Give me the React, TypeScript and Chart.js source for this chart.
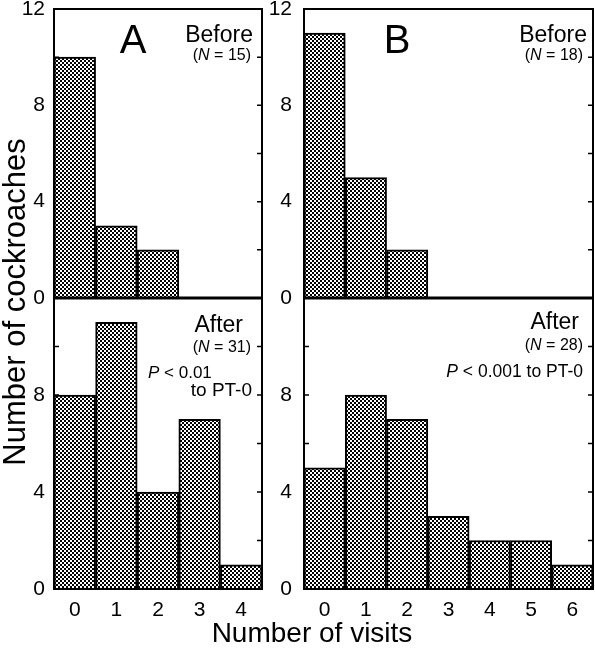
import React, { useEffect, useRef } from "react";
import { Chart, registerables } from "chart.js";

Chart.register(...registerables);

const W = 595;
const H = 649;
const FONT = '"Liberation Sans", Arial, Helvetica, sans-serif';

// ---- data ----
const visitsA = ["0", "1", "2", "3", "4"];
const visitsB = ["0", "1", "2", "3", "4", "5", "6"];
const beforeA = [10, 3, 2, 0, 0];
const afterA = [8, 11, 4, 7, 1];
const beforeB = [11, 5, 2, 0, 0, 0, 0];
const afterB = [5, 8, 7, 3, 2, 2, 1];
const yMajorTicks = [0, 4, 8, 12];
const yMinorTicks = [2, 4, 6, 8, 10];
const Y_MIN = 0;
const Y_MAX = 12;
const yTitle = "Number of cockroaches";
const xTitle = "Number of visits";

type Seg = { t: string; i?: boolean };
type Note = { segs: Seg[]; x: number; y: number; size: number; align: "left" | "right" | "center" };
type Area = { l: number; t: number; r: number; b: number };
type Panel = {
  labels: string[];
  values: number[];
  area: Area;
  showX: boolean;
  hideTopTick: boolean;
  tickPad: number;
  notes: Note[];
  thickBottom: boolean;
  titles: boolean;
};

const notesATop: Note[] = [
  { segs: [{ t: "A" }], x: 133, y: 53, size: 40, align: "center" },
  { segs: [{ t: "Before" }], x: 253, y: 42, size: 23, align: "right" },
  { segs: [{ t: "(" }, { t: "N", i: true }, { t: " = 15)" }], x: 251, y: 60, size: 16, align: "right" },
];
const notesABot: Note[] = [
  { segs: [{ t: "After" }], x: 243, y: 332, size: 23, align: "right" },
  { segs: [{ t: "(" }, { t: "N", i: true }, { t: " = 31)" }], x: 251, y: 352, size: 16, align: "right" },
  { segs: [{ t: "P", i: true }, { t: " < 0.01" }], x: 148, y: 378, size: 17, align: "left" },
  { segs: [{ t: "to PT-0" }], x: 252, y: 396, size: 19, align: "right" },
];
const notesBTop: Note[] = [
  { segs: [{ t: "B" }], x: 397, y: 53, size: 40, align: "center" },
  { segs: [{ t: "Before" }], x: 587, y: 42, size: 23, align: "right" },
  { segs: [{ t: "(" }, { t: "N", i: true }, { t: " = 18)" }], x: 583, y: 60, size: 16, align: "right" },
];
const notesBBot: Note[] = [
  { segs: [{ t: "After" }], x: 579, y: 329, size: 23, align: "right" },
  { segs: [{ t: "(" }, { t: "N", i: true }, { t: " = 28)" }], x: 583, y: 350, size: 16, align: "right" },
  { segs: [{ t: "P", i: true }, { t: " < 0.001 to PT-0" }], x: 583, y: 377, size: 17.5, align: "right" },
];

const panels: Panel[] = [
  { labels: visitsA, values: beforeA, area: { l: 54, t: 9, r: 262, b: 298 }, showX: false, hideTopTick: false, tickPad: 9, notes: notesATop, thickBottom: true, titles: false },
  { labels: visitsA, values: afterA, area: { l: 54, t: 298, r: 262, b: 589 }, showX: true, hideTopTick: true, tickPad: 9, notes: notesABot, thickBottom: false, titles: true },
  { labels: visitsB, values: beforeB, area: { l: 304, t: 9, r: 593, b: 298 }, showX: false, hideTopTick: false, tickPad: 12, notes: notesBTop, thickBottom: true, titles: false },
  { labels: visitsB, values: afterB, area: { l: 304, t: 298, r: 593, b: 589 }, showX: true, hideTopTick: true, tickPad: 12, notes: notesBBot, thickBottom: false, titles: false },
];

const Y_AXIS_W = 40;
const X_AXIS_H = 30;

function makePattern(): CanvasPattern | string {
  const c = document.createElement("canvas");
  c.width = 4;
  c.height = 4;
  const g = c.getContext("2d");
  if (!g) return "#777";
  g.fillStyle = "#fff";
  g.fillRect(0, 0, 4, 4);
  g.fillStyle = "#000";
  g.fillRect(0, 0, 2, 2);
  g.fillRect(2, 2, 2, 2);
  const p = g.createPattern(c, "repeat");
  return p || "#777";
}

function drawNote(ctx: CanvasRenderingContext2D, n: Note) {
  const fontOf = (s: Seg) => `${s.i ? "italic " : ""}${n.size}px ${FONT}`;
  let total = 0;
  const widths = n.segs.map((s) => {
    ctx.font = fontOf(s);
    const w = ctx.measureText(s.t).width;
    total += w;
    return w;
  });
  let x = n.align === "left" ? n.x : n.align === "right" ? n.x - total : n.x - total / 2;
  ctx.textAlign = "left";
  ctx.textBaseline = "alphabetic";
  ctx.fillStyle = "#000";
  n.segs.forEach((s, k) => {
    ctx.font = fontOf(s);
    ctx.fillText(s.t, x, n.y);
    x += widths[k];
  });
}

function decorPlugin(p: Panel) {
  return {
    id: "panelDecor",
    beforeDatasetsDraw(chart: any) {
      const { ctx, chartArea: a, scales } = chart;
      const y = scales.y;
      ctx.save();
      ctx.strokeStyle = "#000";
      ctx.lineWidth = 1.5;
      yMinorTicks.forEach((v) => {
        const py = y.getPixelForValue(v);
        ctx.beginPath();
        ctx.moveTo(a.left, py);
        ctx.lineTo(a.left + 5, py);
        ctx.moveTo(a.right - 5, py);
        ctx.lineTo(a.right, py);
        ctx.stroke();
      });
      ctx.restore();
    },
    afterDatasetsDraw(chart: any) {
      const { ctx, chartArea: a } = chart;
      ctx.save();
      ctx.strokeStyle = "#000";
      ctx.lineWidth = 2;
      ctx.strokeRect(a.left, a.top, a.right - a.left, a.bottom - a.top);
      if (p.thickBottom) {
        ctx.lineWidth = 3;
        ctx.beginPath();
        ctx.moveTo(a.left - 1, a.bottom);
        ctx.lineTo(a.right + 1, a.bottom);
        ctx.stroke();
      }
      p.notes.forEach((n) => drawNote(ctx, n));
      if (p.titles) {
        ctx.fillStyle = "#000";
        ctx.textAlign = "center";
        ctx.textBaseline = "alphabetic";
        ctx.font = `28px ${FONT}`;
        ctx.fillText(xTitle, 312, 642);
        ctx.save();
        ctx.font = `31px ${FONT}`;
        ctx.translate(25, 302);
        ctx.rotate(-Math.PI / 2);
        ctx.fillText(yTitle, 0, 0);
        ctx.restore();
      }
      ctx.restore();
    },
  };
}

function buildConfig(p: Panel, pattern: CanvasPattern | string): any {
  return {
    type: "bar",
    data: {
      labels: p.labels,
      datasets: [
        {
          data: p.values,
          backgroundColor: pattern,
          borderColor: "#000",
          borderWidth: 2,
          barPercentage: 1,
          categoryPercentage: 1,
        },
      ],
    },
    options: {
      responsive: false,
      animation: false,
      layout: {
        padding: {
          left: p.area.l - Y_AXIS_W,
          right: W - p.area.r,
          top: p.area.t,
          bottom: p.showX ? H - p.area.b - X_AXIS_H : H - p.area.b,
        },
      },
      plugins: { legend: { display: false }, tooltip: { enabled: false } },
      scales: {
        x: {
          type: "category",
          display: p.showX,
          offset: true,
          grid: { display: false, drawTicks: false },
          border: { display: false },
          ticks: { padding: 9, font: { family: FONT, size: 21 }, color: "#000", maxRotation: 0, autoSkip: false },
          afterFit: (s: any) => {
            s.height = p.showX ? X_AXIS_H : 0;
            s.paddingLeft = 0;
            s.paddingRight = 0;
          },
        },
        y: {
          min: Y_MIN,
          max: Y_MAX,
          grid: { display: false, drawTicks: false },
          border: { display: false },
          afterBuildTicks: (s: any) => {
            s.ticks = yMajorTicks.filter((v) => !(p.hideTopTick && v === Y_MAX)).map((v) => ({ value: v }));
          },
          ticks: { padding: p.tickPad, font: { family: FONT, size: 21 }, color: "#000", callback: (v: any) => String(v) },
          afterFit: (s: any) => {
            s.width = Y_AXIS_W;
            s.paddingTop = 0;
            s.paddingBottom = 0;
          },
        },
      },
    },
    plugins: [decorPlugin(p)],
  };
}

function PanelCanvas({ panel }: { panel: Panel }) {
  const ref = useRef<HTMLCanvasElement | null>(null);
  useEffect(() => {
    if (!ref.current) return;
    const chart = new Chart(ref.current, buildConfig(panel, makePattern()));
    return () => chart.destroy();
  }, [panel]);
  return (
    <canvas
      ref={ref}
      width={W}
      height={H}
      style={{ position: "absolute", left: 0, top: 0, width: W, height: H }}
    />
  );
}

export default function App() {
  return (
    <div style={{ position: "absolute", left: 0, top: 0, width: W, height: H, background: "#fff" }}>
      {panels.map((p, i) => (
        <PanelCanvas key={i} panel={p} />
      ))}
    </div>
  );
}
